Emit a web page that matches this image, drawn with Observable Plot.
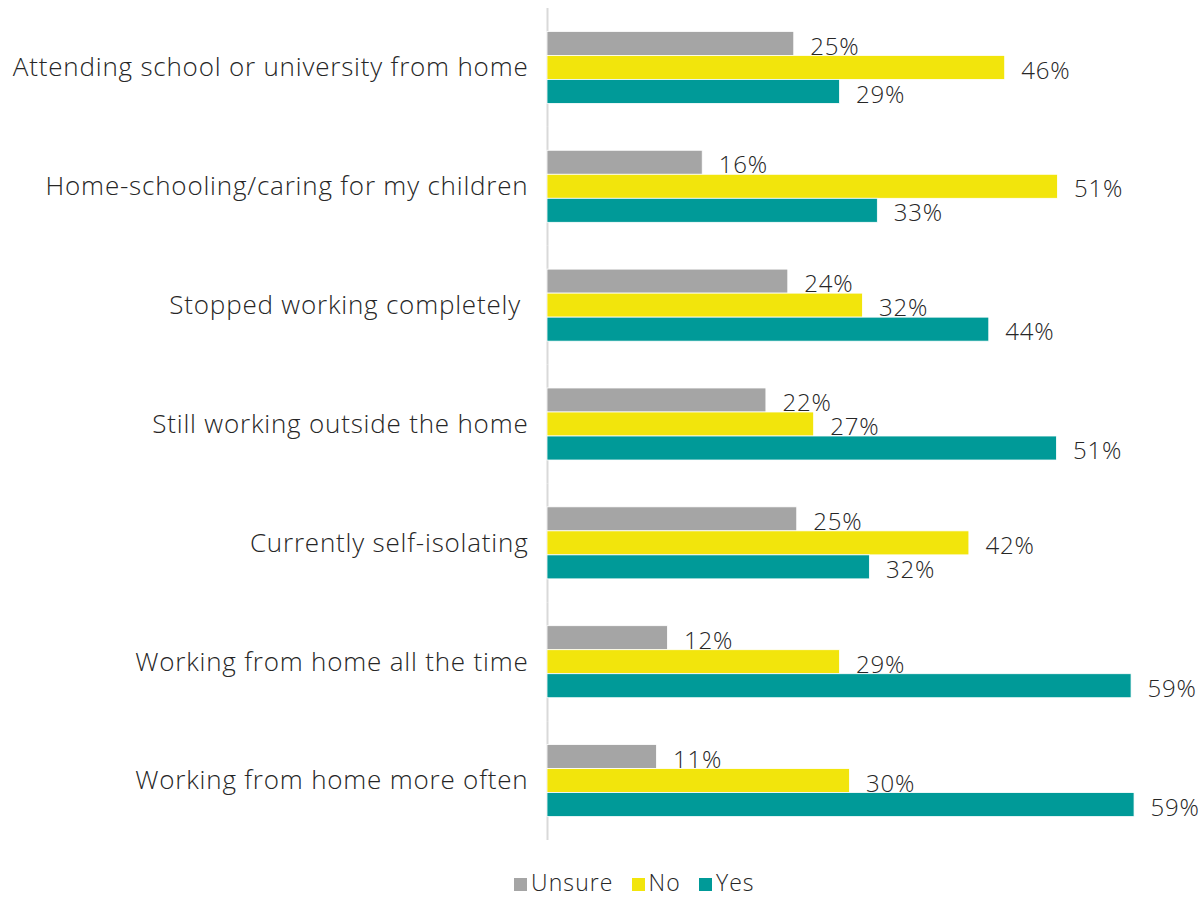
<!DOCTYPE html>
<html>
<head>
<meta charset="utf-8">
<script src="https://cdn.jsdelivr.net/npm/d3@7"></script>
<script src="https://cdn.jsdelivr.net/npm/@observablehq/plot@0.6"></script>
<style>
  body { margin: 0; background: #fff; font-family: "Open Sans", Lato, sans-serif; font-weight: 300; color: #262626; overflow: hidden; }
  #legend { display: flex; align-items: center; margin-left: 514px; margin-top: 31px; font-size: 23px; line-height: 22px; height: 22px; letter-spacing: 1.1px; }
  #legend .item { display: flex; align-items: center; margin-right: 18px; }
  #legend .sw { width: 13px; height: 13px; margin-right: 4px; margin-top: 4px; }
</style>
</head>
<body>
<div id="chart"></div>
<div id="legend"></div>
<script>
const categories = [
  "Attending school or university from home",
  "Home-schooling/caring for my children",
  "Stopped working completely\u00a0",
  "Still working outside the home",
  "Currently self-isolating",
  "Working from home all the time",
  "Working from home more often"
];
const series = ["Unsure", "No", "Yes"];
const unsure = [24.8, 15.6, 24.2, 22.0, 25.1, 12.1, 11.0];
const no = [46.0, 51.3, 31.7, 26.8, 42.4, 29.4, 30.4];
const yes = [29.4, 33.2, 44.4, 51.2, 32.4, 58.7, 59.0];
const colors = ["#a5a5a5", "#f2e50c", "#009a98"];

const values = {Unsure: unsure, No: no, Yes: yes};
const data = categories.flatMap((c, i) => series.map(s => ({category: c, series: s, value: values[s][i]})));

const chart = Plot.plot({
  width: 1203,
  height: 840,
  marginLeft: 547,
  marginRight: 59,
  marginTop: 8,
  marginBottom: 0,
  style: {fontFamily: "'Open Sans', Lato, sans-serif", fontSize: "26px", fontWeight: 300, color: "#262626", background: "#fff", letterSpacing: "0.8px"},
  x: {domain: [0, 60], axis: null},
  y: {domain: series, axis: null, paddingInner: 0, paddingOuter: 0.975, round: false},
  fy: {domain: categories, padding: 0, round: false, axis: "left", label: null, tickSize: 0, tickPadding: 19},
  color: {domain: series, range: colors},
  marks: [
    Plot.ruleX([0], {stroke: "#d9d9d9", strokeWidth: 2}),
    Plot.barX(data, {x: "value", y: "series", fy: "category", fill: "series", stroke: "#ffffff", strokeWidth: 0.8}),
    Plot.text(data, {x: "value", y: "series", fy: "category", text: d => Math.round(d.value) + "%", textAnchor: "start", dx: 16, dy: 3, fill: "#262626", fontSize: 24, style: "letter-spacing:0.2px"})
  ]
});
document.getElementById("chart").append(chart);

const legend = document.getElementById("legend");
series.forEach((s, i) => {
  const item = document.createElement("div");
  item.className = "item";
  const sw = document.createElement("span");
  sw.className = "sw";
  sw.style.background = colors[i];
  const t = document.createElement("span");
  t.textContent = s;
  item.append(sw, t);
  legend.append(item);
});
</script>
</body>
</html>
